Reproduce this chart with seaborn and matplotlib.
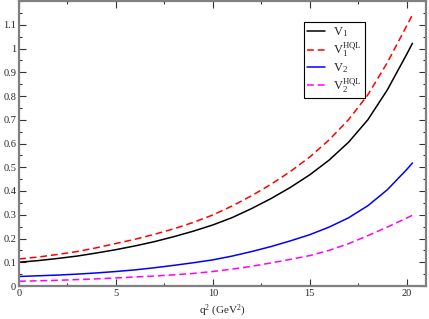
import numpy as np
import matplotlib
matplotlib.use('Agg')
import matplotlib.pyplot as plt
import pandas as pd
import seaborn as sns
from matplotlib.ticker import MultipleLocator

# Werte
q2 = [0, 1, 2, 3, 4, 5, 6, 7, 8, 9, 10, 11, 12, 13, 14, 15, 16, 17, 18, 19, 20, 20.3]
v1 = [0.100, 0.107, 0.116, 0.126, 0.139, 0.153, 0.169, 0.187, 0.208, 0.231, 0.257,
      0.288, 0.326, 0.368, 0.415, 0.468, 0.530, 0.605, 0.700, 0.825, 0.975, 1.022]
v1_hql = [0.114, 0.122, 0.133, 0.145, 0.161, 0.179, 0.197, 0.218, 0.241, 0.268, 0.299,
          0.337, 0.380, 0.428, 0.482, 0.543, 0.615, 0.700, 0.805, 0.940, 1.095, 1.142]
v2 = [0.040, 0.043, 0.046, 0.050, 0.055, 0.061, 0.068, 0.077, 0.087, 0.098, 0.110,
      0.126, 0.145, 0.166, 0.190, 0.216, 0.248, 0.287, 0.338, 0.405, 0.490, 0.518]
v2_hql = [0.020, 0.022, 0.024, 0.027, 0.030, 0.034, 0.038, 0.042, 0.047, 0.053, 0.061,
          0.071, 0.083, 0.097, 0.112, 0.128, 0.150, 0.178, 0.212, 0.248, 0.286, 0.298]

labels = [r'$\mathrm{V}_1$', r'$\mathrm{V}_1^{\mathrm{HQL}}$',
          r'$\mathrm{V}_2$', r'$\mathrm{V}_2^{\mathrm{HQL}}$']
ytick_labels = ['0', '0.1', '0.2', '0.3', '0.4', '0.5', '0.6', '0.7', '0.8', '0.9', '1', '1.1']

sns.set_style('ticks')
plt.rcParams['font.family'] = ['Liberation Serif', 'DejaVu Serif']
plt.rcParams['mathtext.fontset'] = 'custom'
plt.rcParams['mathtext.rm'] = 'Liberation Serif'
plt.rcParams['mathtext.it'] = 'Liberation Serif:italic'

fig = plt.figure(figsize=(4.29, 3.19), dpi=100)
ax = fig.add_axes([19/429, 1 - 286/319, 407/429, 285/319])

dash = (0, (4.5, 2.5))
styles = [('black', '-'), ('red', dash), ('blue', '-'), ('magenta', dash)]
for ys, lab, (c, ls) in zip([v1, v1_hql, v2, v2_hql], labels, styles):
    df = pd.DataFrame({'q2': q2, 'v': ys})
    sns.lineplot(data=df, x='q2', y='v', color=c, linestyle=ls, lw=1.1, label=lab, ax=ax)

ax.set_xlim(0, 21)
ax.set_ylim(0, 1.2)
ax.set_xticks([0, 5, 10, 15, 20])
ax.set_yticks(np.round(np.arange(0, 1.15, 0.1), 1))
ax.set_yticklabels(ytick_labels)
ax.xaxis.set_minor_locator(MultipleLocator(2.5))
ax.yaxis.set_minor_locator(MultipleLocator(0.05))
ax.tick_params(which='both', direction='in', top=True, right=True, labelsize=7.5,
               color='#333333', pad=2)
ax.tick_params(which='major', length=5, width=0.8)
ax.tick_params(which='minor', length=2.5, width=0.8)
for sp in ax.spines.values():
    sp.set_color('#808080')
    sp.set_linewidth(1.6)

ax.set_xlabel(r'q$^2$ (GeV$^2$)', fontsize=8, labelpad=4)
ax.set_ylabel('')

leg = ax.legend(loc='upper left', bbox_to_anchor=(285/407, 1 - 21/285), fontsize=9,
                frameon=True, fancybox=False, edgecolor='black', framealpha=1,
                handlelength=1.4, handletextpad=0.7, borderpad=0.25, labelspacing=0.12,
                borderaxespad=0)
leg.get_frame().set_linewidth(0.8)

fig.savefig('out.png', dpi=100)
